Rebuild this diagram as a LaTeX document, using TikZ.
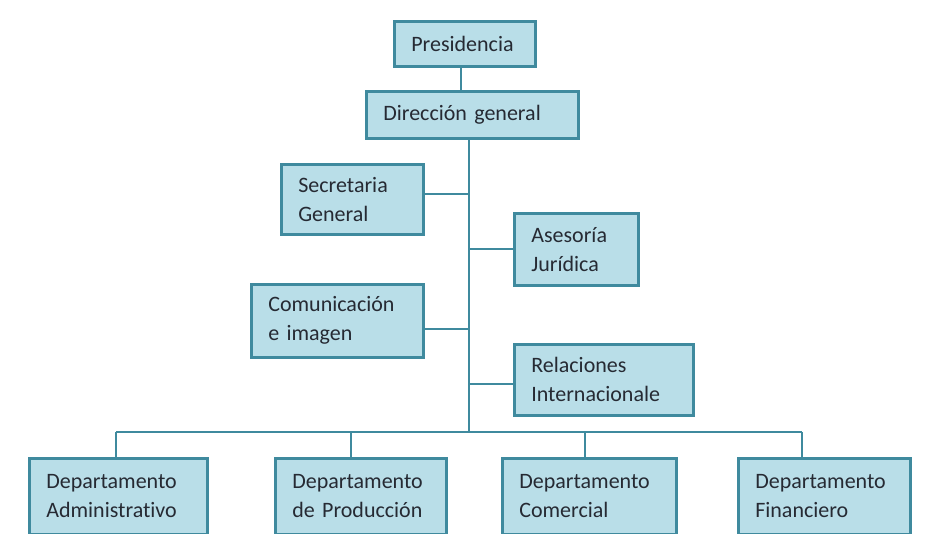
\documentclass[tikz,border=0pt]{standalone}
\usepackage{fontspec}
\setmainfont{Carlito}[Ligatures=NoCommon]
\definecolor{boxfill}{HTML}{B9DEE8}
\definecolor{boxline}{HTML}{3F8A9E}
\definecolor{conline}{HTML}{3F8A9E}
\definecolor{txt}{HTML}{262A33}
\begin{document}
\begin{tikzpicture}[x=1pt,y=-1pt,
  box/.style={draw=boxline, fill=boxfill, line width=2.6pt, anchor=north west,
    inner xsep=17pt, inner ysep=0pt, align=left, text=txt,
    font=\fontsize{22}{29}\selectfont},
  con/.style={draw=conline, line width=2.4pt}]
\useasboundingbox (0,0) rectangle (925,534);
\node[box, text width=141pt-34pt, minimum height=45pt] (pres) at (393,20) {Presidencia};
\node[box, text width=212pt-34pt, minimum height=47pt] (dir) at (365,90) {Dirección general};
\node[box, text width=142pt-34pt, minimum height=70pt] (sec) at (280,163) {Secretaria\\General};
\node[box, text width=124pt-34pt, minimum height=72pt] (ase) at (513,212) {Asesoría\\Jurídica};
\node[box, text width=172pt-34pt, minimum height=73pt] (com) at (250,283) {Comunicación\\e imagen};
\node[box, text width=179pt-34pt, minimum height=71pt] (rel) at (513,343) {Relaciones\\Internacionale};
\node[box, text width=178pt-34pt, minimum height=76pt] (d1) at (28,457) {Departamento\\Administrativo};
\node[box, text width=171pt-34pt, minimum height=76pt] (d2) at (274,457) {Departamento\\de Producción};
\node[box, text width=174pt-34pt, minimum height=76pt] (d3) at (501,457) {Departamento\\Comercial};
\node[box, text width=172pt-34pt, minimum height=76pt] (d4) at (737,457) {Departamento\\Financiero};
\coordinate (bus) at (469,432);
\coordinate (b1) at (116,432);
\coordinate (b2) at (351,432);
\coordinate (b3) at (585,432);
\coordinate (b4) at (802,432);
\draw[con] (pres.south -| 461,0) -- (dir.north -| 461,0);
\draw[con] (dir.south -| bus) -- (bus);
\draw[con] ([yshift=5pt]sec.east) -- ([yshift=5pt]sec.east -| bus);
\draw[con] (ase.west) -- (ase.west -| bus);
\draw[con] ([yshift=-8pt]com.east) -- ([yshift=-8pt]com.east -| bus);
\draw[con] ([yshift=-4pt]rel.west) -- ([yshift=-4pt]rel.west -| bus);
\draw[con] (b1) -- (b4);
\draw[con] (b1) -- (b1 |- d1.north);
\draw[con] (b2) -- (b2 |- d2.north);
\draw[con] (b3) -- (b3 |- d3.north);
\draw[con] (b4) -- (b4 |- d4.north);
\end{tikzpicture}
\end{document}
